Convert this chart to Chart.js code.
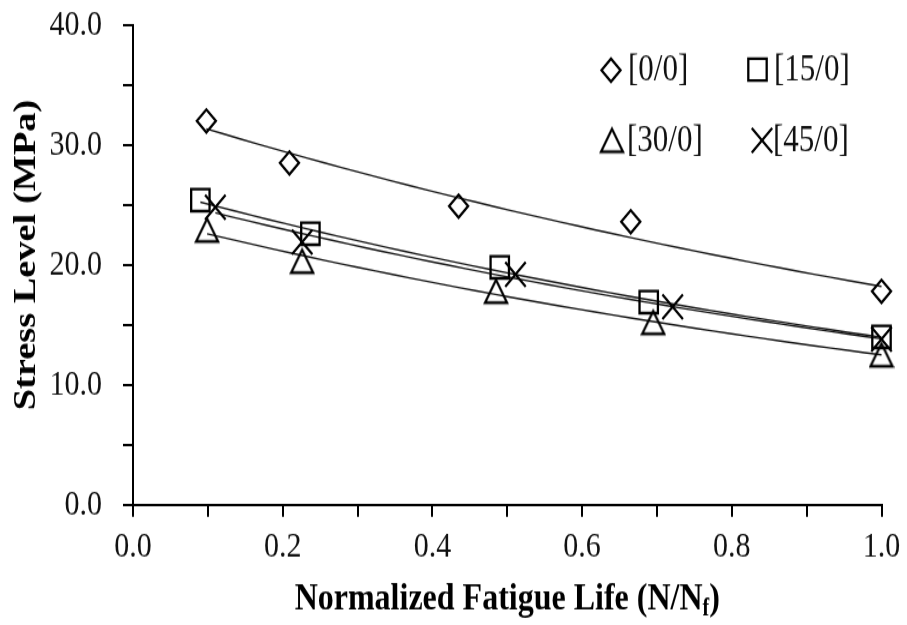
<!DOCTYPE html>
<html><head><meta charset="utf-8">
<script src="https://cdn.jsdelivr.net/npm/chart.js@4.4.1/dist/chart.umd.min.js"></script>
<style>
html{margin:0;padding:0;background:#fff;overflow:hidden}
body{margin:0;padding:0;background:#fff;width:907px;height:625px}
#wrap{width:907px;height:521px;transform:scaleY(1.19962);transform-origin:0 0}
</style></head><body>
<div id="wrap"><canvas id="c" width="907" height="521"></canvas></div>
<script>
// ---- data ----
const seriesNames = ['[0/0]', '[15/0]', '[30/0]', '[45/0]'];
const life00  = [0.098, 0.209, 0.435, 0.665, 1.0];
const stress00 = [32.0, 28.5, 24.9, 23.6, 17.8];
const life15  = [0.090, 0.237, 0.490, 0.689, 1.0];
const stress15 = [25.4, 22.6, 19.8, 16.9, 14.0];
const life30  = [0.099, 0.226, 0.485, 0.695, 1.0];
const stress30 = [22.9, 20.3, 17.8, 15.2, 12.5];
const life45  = [0.110, 0.226, 0.511, 0.721, 1.0];
const stress45 = [24.8, 21.9, 19.2, 16.5, 13.8];
const xTickLabels = ['0.0', '0.2', '0.4', '0.6', '0.8', '1.0'];
const yTickLabels = ['0.0', '10.0', '20.0', '30.0', '40.0'];

// ---- helpers ----
function pts(xs, ys) { return xs.map((x, i) => ({x: x, y: ys[i]})); }
function expFit(xs, ys) {
  const n = xs.length; let sx = 0, sy = 0, sxx = 0, sxy = 0;
  for (let i = 0; i < n; i++) { const l = Math.log(ys[i]); sx += xs[i]; sy += l; sxx += xs[i] * xs[i]; sxy += xs[i] * l; }
  const b = (n * sxy - sx * sy) / (n * sxx - sx * sx);
  const a = Math.exp((sy - b * sx) / n);
  return {a, b};
}
function trend(xs, ys) {
  const f = expFit(xs, ys); const lo = Math.min(...xs), hi = Math.max(...xs); const out = [];
  for (let i = 0; i <= 40; i++) { const x = lo + (hi - lo) * i / 40; out.push({x: x, y: f.a * Math.exp(f.b * x)}); }
  return out;
}
function triCanvas() {
  const c = document.createElement('canvas'); c.width = 26; c.height = 25;
  const g = c.getContext('2d'); g.strokeStyle = '#000'; g.lineWidth = 2.3; g.lineJoin = 'miter';
  g.beginPath(); g.moveTo(13, 3); g.lineTo(24, 22); g.lineTo(2, 22); g.closePath(); g.stroke();
  return c;
}
const tri = triCanvas();
const styles = [
  {pointStyle: 'rectRot', radius: 9.5},
  {pointStyle: 'rect', radius: 13},
  {pointStyle: tri, radius: 12},
  {pointStyle: 'crossRot', radius: 14.5}
];
const lifes = [life00, life15, life30, life45];
const stresses = [stress00, stress15, stress30, stress45];

const datasets = [];
lifes.forEach((xs, i) => {
  datasets.push({label: seriesNames[i] + ' fit', data: trend(xs, stresses[i]), showLine: true, pointRadius: 0,
    borderColor: '#151515', borderWidth: 1.4, fill: false, clip: false, order: 2});
});
lifes.forEach((xs, i) => {
  datasets.push({label: seriesNames[i], data: pts(xs, stresses[i]), showLine: false,
    pointStyle: styles[i].pointStyle, pointRadius: styles[i].radius, pointHoverRadius: styles[i].radius,
    borderColor: '#000', backgroundColor: 'rgba(0,0,0,0)', pointBorderWidth: 2.3, borderWidth: 2.3, clip: false, order: 1});
});

const legendPos = [
  {mx: 611, my: 58.5, tx: 628, ty: 58.5},
  {mx: 757.5, my: 58, tx: 774, ty: 58.5},
  {mx: 612, my: 117, tx: 627, ty: 117.5},
  {mx: 762, my: 117, tx: 773, ty: 117.5}
];

const decor = {
  id: 'decor',
  afterDraw(chart) {
    const ctx = chart.ctx; const ca = chart.chartArea;
    ctx.save();
    legendPos.forEach((p, i) => {
      ctx.strokeStyle = '#000'; ctx.fillStyle = 'rgba(0,0,0,0)'; ctx.lineWidth = 2.3;
      Chart.helpers.drawPoint(ctx, {pointStyle: styles[i].pointStyle, radius: styles[i].radius, rotation: 0, borderWidth: 2.3}, p.mx, p.my);
      ctx.fillStyle = '#111'; ctx.font = '31px "Liberation Serif"'; ctx.textAlign = 'left'; ctx.textBaseline = 'middle';
      ctx.fillText(seriesNames[i], p.tx, p.ty);
    });
    const cx = (ca.left + ca.right) / 2, by = 508;
    const mainT = 'Normalized Fatigue Life (N/N', subT = 'f', endT = ')';
    ctx.fillStyle = '#000'; ctx.textBaseline = 'alphabetic'; ctx.textAlign = 'left';
    ctx.font = 'bold 32px "Liberation Serif"'; const w1 = ctx.measureText(mainT).width, w3 = ctx.measureText(endT).width;
    ctx.font = 'bold 20px "Liberation Serif"'; const w2 = ctx.measureText(subT).width;
    let x0 = cx - (w1 + w2 + w3) / 2;
    ctx.font = 'bold 32px "Liberation Serif"'; ctx.fillText(mainT, x0, by);
    ctx.font = 'bold 20px "Liberation Serif"'; ctx.fillText(subT, x0 + w1, by + 5);
    ctx.font = 'bold 32px "Liberation Serif"'; ctx.fillText(endT, x0 + w1 + w2, by);
    ctx.translate(27, 212.5); ctx.rotate(-Math.PI / 2);
    ctx.textAlign = 'center'; ctx.textBaseline = 'middle'; ctx.font = 'bold 32px "Liberation Serif"';
    ctx.fillText('Stress Level (MPa)', 0, 0);
    ctx.restore();
  }
};

Chart.defaults.font.family = '"Liberation Serif"';
new Chart(document.getElementById('c'), {
  type: 'scatter',
  data: {datasets: datasets},
  plugins: [decor],
  options: {
    responsive: false, devicePixelRatio: 1, animation: false,
    layout: {padding: {top: 20.8, right: 25.5, left: 0, bottom: 0}},
    plugins: {legend: {display: false}, tooltip: {enabled: false}},
    scales: {
      x: {type: 'linear', min: 0, max: 1,
        afterFit(s) { s.height = 100.2; s.paddingLeft = 0; s.paddingRight = 0; },
        border: {display: true, color: '#000', width: 2},
        grid: {display: true, drawOnChartArea: false, drawTicks: true, tickLength: 10, color: '#000', lineWidth: 2},
        ticks: {stepSize: 0.1, padding: 7, color: '#111', font: {size: 30}, maxRotation: 0, autoSkip: false,
          callback(v) { const k = Math.round(v * 10); return k % 2 === 0 ? xTickLabels[k / 2] : ''; }}
      },
      y: {type: 'linear', min: 0, max: 40,
        afterFit(s) { s.width = 133; s.paddingTop = 0; s.paddingBottom = 0; },
        border: {display: true, color: '#000', width: 2},
        grid: {display: true, drawOnChartArea: false, drawTicks: true, tickLength: 10, color: '#000', lineWidth: 2},
        ticks: {stepSize: 5, padding: 21, color: '#111', font: {size: 30}, autoSkip: false,
          callback(v) { const k = Math.round(v); return k % 10 === 0 ? yTickLabels[k / 10] : ''; }}
      }
    }
  }
});
</script>
</body></html>
